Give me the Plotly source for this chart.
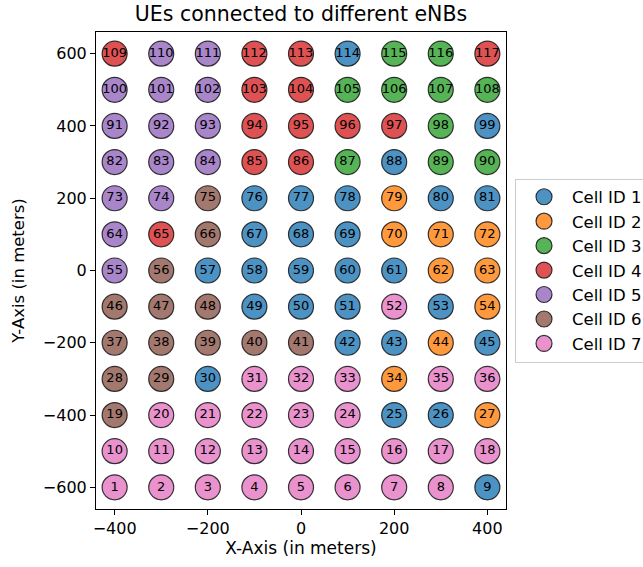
import plotly.graph_objects as go

# Grid positions of the UEs (meters)
x_positions = [-400, -300, -200, -100, 0, 100, 200, 300, 400]
y_positions = [-600, -500, -400, -300, -200, -100, 0, 100, 200, 300, 400, 500, 600]

# Serving cell of each UE, one row per y position (bottom row first), UE ids run left to right
serving_cell = [
    [7, 7, 7, 7, 7, 7, 7, 7, 1],  # UEs 1-9
    [7, 7, 7, 7, 7, 7, 7, 7, 7],  # 10-18
    [6, 7, 7, 7, 7, 7, 1, 1, 2],  # 19-27
    [6, 6, 1, 7, 7, 7, 2, 7, 7],  # 28-36
    [6, 6, 6, 6, 6, 1, 1, 2, 1],  # 37-45
    [6, 6, 6, 1, 1, 1, 7, 1, 2],  # 46-54
    [5, 6, 1, 1, 1, 1, 1, 2, 2],  # 55-63
    [5, 4, 6, 1, 1, 1, 2, 2, 2],  # 64-72
    [5, 5, 6, 1, 1, 1, 2, 1, 1],  # 73-81
    [5, 5, 5, 4, 4, 3, 1, 3, 3],  # 82-90
    [5, 5, 5, 4, 4, 4, 4, 3, 1],  # 91-99
    [5, 5, 5, 4, 4, 3, 3, 3, 3],  # 100-108
    [4, 5, 5, 4, 4, 1, 3, 3, 4],  # 109-117
]

cell_ids = [1, 2, 3, 4, 5, 6, 7]
cell_names = ["Cell ID 1", "Cell ID 2", "Cell ID 3", "Cell ID 4",
              "Cell ID 5", "Cell ID 6", "Cell ID 7"]
cell_colors = ["rgba(31,119,180,0.8)", "rgba(255,127,14,0.8)", "rgba(44,160,44,0.8)",
               "rgba(214,39,40,0.8)", "rgba(148,103,189,0.8)", "rgba(140,86,75,0.8)",
               "rgba(227,119,194,0.8)"]

FONT = "DejaVu Sans, Arial, sans-serif"

fig = go.Figure()

for cid, name, color in zip(cell_ids, cell_names, cell_colors):
    xs, ys, labels = [], [], []
    ue = 0
    for r, row in enumerate(serving_cell):
        for c, cell in enumerate(row):
            ue += 1
            if cell == cid:
                xs.append(x_positions[c])
                ys.append(y_positions[r])
                labels.append(str(ue))
    fig.add_trace(go.Scatter(
        x=xs, y=ys, mode="markers+text", name=name,
        text=labels, textposition="middle center",
        textfont=dict(family=FONT, size=13, color="black"),
        marker=dict(size=25, color=color,
                    line=dict(color="rgba(20,20,20,0.85)", width=1.2)),
        cliponaxis=False,
    ))

axis_common = dict(
    showgrid=False, zeroline=False, showline=True, linecolor="black", linewidth=1,
    mirror=True, ticks="outside", ticklen=5, tickcolor="black", automargin=False,
    tickfont=dict(family=FONT, size=16, color="black"),
)

fig.update_layout(
    width=643, height=567,
    margin=dict(l=96, r=137, t=32, b=58, autoexpand=False),
    paper_bgcolor="white", plot_bgcolor="white",
    title=dict(text="UEs connected to different eNBs", x=0.5, xref="paper",
               y=0.975, yanchor="middle",
               font=dict(family=FONT, size=20.5, color="black")),
    xaxis=dict(range=[-440, 440], tickvals=[-400, -200, 0, 200, 400],
               ticktext=["\u2212400", "\u2212200", "0", "200", "400"],
               title=dict(text="X-Axis (in meters)", standoff=4,
                          font=dict(family=FONT, size=17, color="black")),
               **axis_common),
    yaxis=dict(range=[-660, 660], tickvals=[-600, -400, -200, 0, 200, 400, 600],
               ticktext=["\u2212600", "\u2212400", "\u2212200", "0", "200", "400", "600"],
               title=dict(text="Y-Axis (in meters)", standoff=14,
                          font=dict(family=FONT, size=16.5, color="black")),
               **axis_common),
    legend=dict(x=1.022, xanchor="left", y=0.5, yanchor="middle",
                bordercolor="rgb(204,204,204)", borderwidth=1,
                font=dict(family=FONT, size=16.5, color="black"),
                itemsizing="trace", itemwidth=46),
    showlegend=True,
)

fig.write_html("out.html")
